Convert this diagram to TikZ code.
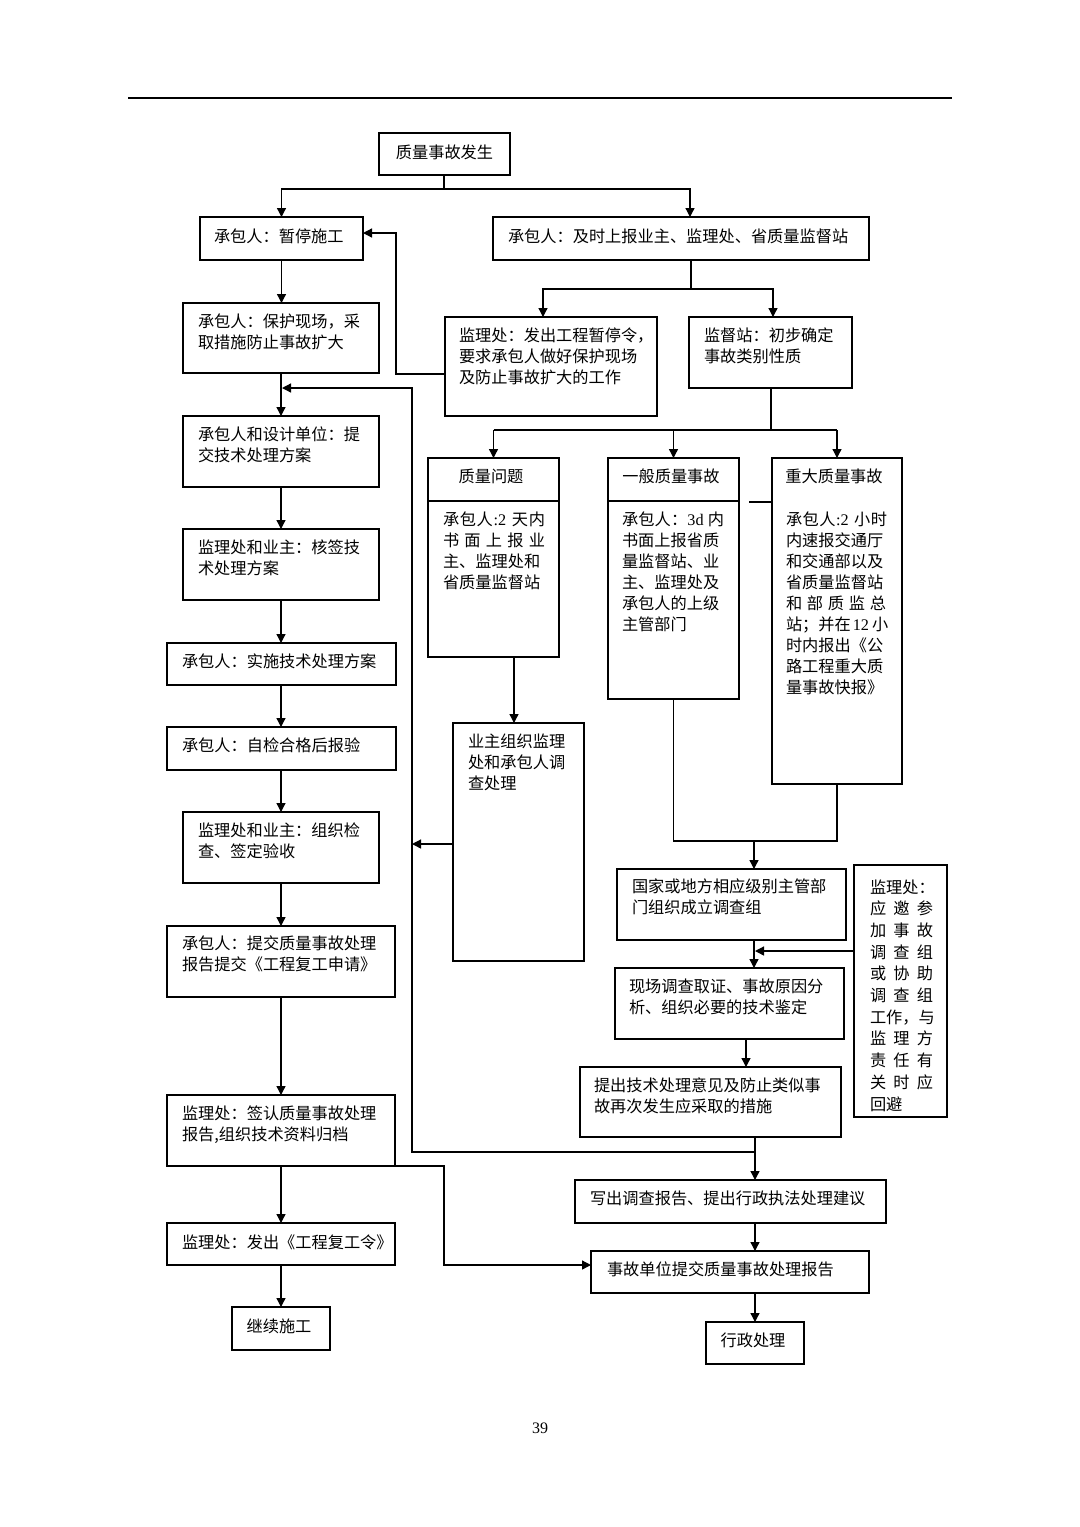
\documentclass[tikz,border=0pt]{standalone}
\usepackage{fontspec}
\setmainfont{Noto Sans CJK SC}
\newfontfamily\lat{Liberation Serif}
\usetikzlibrary{arrows.meta}
\tikzset{
  bx/.style={draw, line width=0.65pt, inner sep=0pt, outer sep=0pt},
  ftxt/.style={inner sep=0pt, outer sep=0pt, font=\fontsize{8.1}{10.5}\selectfont},
  ln/.style={line width=0.65pt},
  arr/.style={line width=0.65pt, -{Triangle[length=4.5pt,width=4.5pt]}}
}
\newcommand\boxat[5]{\node[bx, anchor=north west, minimum width={(#4-#2)*0.5pt}, minimum height={(#5-#3)*0.5pt}] (#1) at (#2,#3) {};}
\newcommand\txtl[5][10.5pt]{\node[ftxt, anchor=base west] (#2) at (#3,#4) {\vtop{\baselineskip=#1\relax\halign{##\hfil\cr#5\crcr}}};}
\newcommand\txtc[4]{\node[ftxt, anchor=base] (#1) at (#2,#3) {#4};}
\newcommand\J[2]{\makebox[#1][s]{#2}}
\begin{document}
\begin{tikzpicture}[x=0.5pt,y=-0.5pt]
\fill[white, use as bounding box] (0,0) rectangle (1080,1527);
\coordinate (ruleA) at (128,98);
\coordinate (ruleB) at (952,98);
\draw[ln] (ruleA) -- (ruleB);

% boxes
\boxat{B0}{379}{133}{510}{175}
\boxat{L1}{200}{217}{363}{260}
\boxat{R1}{493}{217}{869}{260}
\boxat{L2}{183}{303}{379}{373}
\boxat{M1}{445}{317}{657}{416}
\boxat{N1}{689}{317}{852}{388}
\boxat{L3}{183}{416}{379}{487}
\boxat{L4}{183}{529}{379}{600}
\boxat{L5}{167}{643}{396}{685}
\boxat{L6}{167}{727}{396}{770}
\boxat{L7}{183}{812}{379}{883}
\boxat{L8}{167}{926}{395}{997}
\boxat{L9}{167}{1095}{395}{1166}
\boxat{L10}{167}{1223}{395}{1265}
\boxat{L11}{232}{1307}{330}{1350}
\boxat{Q1}{428}{458}{559}{657}
\boxat{G1}{608}{458}{739}{699}
\boxat{Z1}{772}{458}{902}{784}
\boxat{YZ}{453}{723}{584}{961}
\boxat{G}{617}{869}{846}{940}
\boxat{Qb}{854}{865}{947}{1117}
\boxat{F}{615}{968}{844}{1039}
\boxat{T}{580}{1067}{841}{1137}
\boxat{W}{575}{1180}{886}{1223}
\boxat{S}{591}{1251}{869}{1293}
\boxat{X}{706}{1322}{804}{1364}

% dividers
\draw[ln] ([yshift=-21.5pt]Q1.north west) -- ([yshift=-21.5pt]Q1.north east);
\draw[ln] ([yshift=-21.5pt]G1.north west) -- ([yshift=-21.5pt]G1.north east);
\draw[ln] ([yshift=-22pt]Z1.north west) -- ++(-23,0);

% texts
\txtc{B0t}{444.5}{158}{质量事故发生}
\txtl{L1t}{214}{242}{承包人：暂停施工}
\txtl{R1t}{508}{242}{承包人：及时上报业主、监理处、省质量监督站}
\txtl{L2t}{198}{327}{承包人：保护现场，采\cr 取措施防止事故扩大}
\txtl{M1t}{459}{341}{监理处：发出工程暂停令，\cr 要求承包人做好保护现场\cr 及防止事故扩大的工作}
\txtl{N1t}{704}{341}{监督站：初步确定\cr 事故类别性质}
\txtl{L3t}{198}{440}{承包人和设计单位：提\cr 交技术处理方案}
\txtl{L4t}{198}{553}{监理处和业主：核签技\cr 术处理方案}
\txtl{L5t}{182}{667}{承包人：实施技术处理方案}
\txtl{L6t}{182}{751}{承包人：自检合格后报验}
\txtl{L7t}{198}{836}{监理处和业主：组织检\cr 查、签定验收}
\txtl{L8t}{182}{949}{承包人：提交质量事故处理\cr 报告提交《工程复工申请》}
\txtl{L9t}{182}{1119}{监理处：签认质量事故处理\cr 报告,组织技术资料归档}
\txtl{L10t}{182}{1248}{监理处：发出《工程复工令》}
\txtc{L11t}{279}{1332}{继续施工}
\txtc{Q1h}{491}{482}{质量问题}
\txtc{G1h}{671}{482}{一般质量事故}
\txtc{Z1h}{834}{482}{重大质量事故}
\txtl{Q1t}{443}{525}{\J{51pt}{承\hfill 包\hfill 人\hfill{\lat :2\hspace{2.5pt}}\hfill 天\hfill 内}\cr \J{51pt}{书\hfill 面\hfill 上\hfill 报\hfill 业}\cr 主、监理处和\cr 省质量监督站}
\txtl{G1t}{622}{525}{\J{51pt}{承\hfill 包\hfill 人\hfill ：\hfill{\lat 3d\hspace{2pt}}\hfill 内}\cr 书面上报省质\cr 量监督站、业\cr 主、监理处及\cr 承包人的上级\cr 主管部门}
\txtl{Z1t}{786}{525}{\J{50.5pt}{承\hfill 包\hfill 人\hfill{\lat :2\hspace{2.5pt}}\hfill 小\hfill 时}\cr 内速报交通厅\cr 和交通部以及\cr 省质量监督站\cr \J{50pt}{和\hfill 部\hfill 质\hfill 监\hfill 总}\cr \J{51pt}{站\hfill ；\hfill 并\hfill 在\hfill{\lat\hspace{1pt}12\hspace{1.5pt}}\hfill 小}\cr 时内报出《公\cr 路工程重大质\cr 量事故快报》}
\txtl{YZt}{468}{747}{业主组织监理\cr 处和承包人调\cr 查处理}
\txtl{Gt}{632}{892}{国家或地方相应级别主管部\cr 门组织成立调查组}
\txtl{Ft}{629}{992}{现场调查取证、事故原因分\cr 析、组织必要的技术鉴定}
\txtl{Tt}{594}{1091}{提出技术处理意见及防止类似事\cr 故再次发生应采取的措施}
\txtl{Wt}{590}{1204}{写出调查报告、提出行政执法处理建议}
\txtl{St}{607}{1275}{事故单位提交质量事故处理报告}
\txtc{Xt}{753}{1346}{行政处理}
\txtl[10.85pt]{Qbt}{870}{893}{监理处：\cr \J{31.5pt}{应\hfill 邀\hfill 参}\cr \J{31.5pt}{加\hfill 事\hfill 故}\cr \J{31.5pt}{调\hfill 查\hfill 组}\cr \J{31.5pt}{或\hfill 协\hfill 助}\cr \J{31.5pt}{调\hfill 查\hfill 组}\cr 工作，与\cr \J{31.5pt}{监\hfill 理\hfill 方}\cr \J{31.5pt}{责\hfill 任\hfill 有}\cr \J{31.5pt}{关\hfill 时\hfill 应}\cr 回避}
\node[inner sep=0pt, font=\lat\fontsize{8}{10}\selectfont, anchor=base] (pg) at (540,1433) {39};

% connectors
\coordinate (j0) at (444,189);
\coordinate (r1in) at (690,217);
\draw[ln] (B0.south -| j0) -- (j0);
\draw[arr] (j0) -| (L1.north);
\draw[arr] (j0) -| (r1in);

\coordinate (j1) at (691,289);
\coordinate (m1in) at (543,317);
\coordinate (n1in) at (773,317);
\draw[ln] (R1.south -| j1) -- (j1);
\draw[arr] (j1) -| (m1in);
\draw[arr] (j1) -| (n1in);

\coordinate (m1o) at (445,374);
\coordinate (k1) at (396,233);
\coordinate (l1in) at (363,233);
\draw[arr] (m1o) -| (k1) -- (l1in);

\draw[arr] (L1.south) -- (L1.south |- L2.north);
\draw[arr] (L2.south) -- (L2.south |- L3.north);
\draw[arr] (L3.south) -- (L3.south |- L4.north);
\draw[arr] (L4.south) -- (L4.south |- L5.north);
\draw[arr] (L5.south -| L4.south) -- (L4.south |- L6.north);
\draw[arr] (L6.south -| L4.south) -- (L4.south |- L7.north);
\draw[arr] (L7.south) -- (L7.south |- L8.north);
\draw[arr] (L8.south -| L7.south) -- (L7.south |- L9.north);
\draw[arr] (L9.south -| L7.south) -- (L7.south |- L10.north);
\draw[arr] (L10.south -| L7.south) -- (L7.south |- L11.north);

\coordinate (j2) at (771,430);
\draw[ln] (N1.south -| j2) -- (j2);
\draw[ln] (Q1.north |- j2) -- (Z1.north |- j2);
\draw[arr] (Q1.north |- j2) -- (Q1.north);
\draw[arr] (G1.north |- j2) -- (G1.north);
\draw[arr] (Z1.north |- j2) -- (Z1.north);

\coordinate (q1o) at (514,657);
\draw[arr] (q1o) -- (q1o |- YZ.north);

\coordinate (v1) at (412,844);
\draw[arr] (YZ.west |- v1) -- (v1);

\coordinate (j5) at (755,1152);
\coordinate (k2) at (412,388);
\coordinate (fb) at (282,388);
\draw[arr] (j5) -| (k2) -- (fb);

\coordinate (j3) at (754,841);
\draw[ln] (G1.south) -- (G1.south |- j3) -- (Z1.south |- j3) -- (Z1.south);
\draw[arr] (j3) -- (j3 |- G.north);
\draw[arr] (G.south -| j3) -- (F.north -| j3);
\coordinate (qa) at (755,951);
\draw[arr] (Qb.west |- qa) -- (qa);
\coordinate (fo) at (746,1039);
\draw[arr] (fo) -- (fo |- T.north);
\coordinate (to) at (755,1137);
\draw[arr] (to) -- (to |- W.north);
\draw[arr] (W.south -| to) -- (S.north -| to);
\draw[arr] (S.south -| X.north) -- (X.north);

\coordinate (k3) at (444,1265);
\coordinate (sin) at (591,1265);
\draw[arr] (L9.south east) -| (k3) -- (sin);
\end{tikzpicture}
\end{document}
